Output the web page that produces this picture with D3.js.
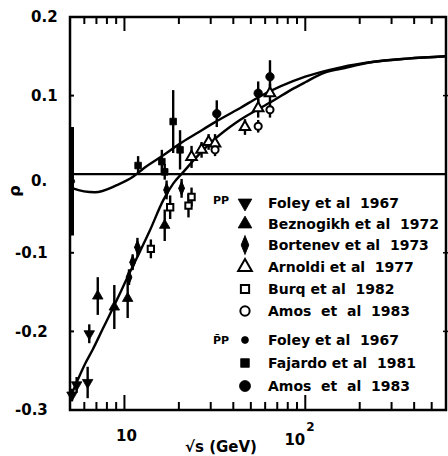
<!DOCTYPE html>
<html><head><meta charset="utf-8">
<script src="https://cdn.jsdelivr.net/npm/d3@7"></script>
<style>
html,body{margin:0;padding:0;background:#fff;}
text{font-family:"DejaVu Sans",sans-serif;font-weight:bold;fill:#000;}
</style></head>
<body>
<svg id="c" width="448" height="456"></svg>
<script>
// ---- data ----
const ppFoleyS=[5.11,5.44,6.26,6.39];
const ppFoleyRho=[-0.281,-0.268,-0.265,-0.203];
const ppFoleyErr=[0.008,0.010,0.020,0.012];

const ppBeznogikhS=[7.12,8.79,10.42,16.7];
const ppBeznogikhRho=[-0.155,-0.169,-0.158,-0.065];
const ppBeznogikhErr=[0.024,0.028,0.025,0.020];

const ppBortenevS=[10.6,11.1,11.8,17.1,20.7];
const ppBortenevRho=[-0.131,-0.112,-0.093,-0.020,-0.018];
const ppBortenevErr=[0.010,0.010,0.012,0.012,0.012];

const ppAmaldiS=[23.5,26.7,29.2,31.7,46.4,54.9,63.8];
const ppAmaldiRho=[0.022,0.031,0.041,0.039,0.060,0.084,0.103];
const ppAmaldiErr=[0.014,0.010,0.010,0.012,0.010,0.012,0.012];

const ppBurqS=[14.0,17.9,22.6,23.5];
const ppBurqRho=[-0.095,-0.042,-0.040,-0.029];
const ppBurqErr=[0.012,0.015,0.015,0.012];

const ppAmosS=[31.7,54.9,63.8];
const ppAmosRho=[0.031,0.061,0.082];
const ppAmosErr=[0.008,0.008,0.010];

const pbarpFoleyS=[5.0];
const pbarpFoleyRho=[-0.009];
const pbarpFoleyErr=[0.069];

const pbarpFajardoS=[11.9,16.1,16.7,18.6,20.3];
const pbarpFajardoRho=[0.011,0.016,0.003,0.067,0.031];
const pbarpFajardoErr=[0.012,0.015,0.010,0.040,0.025];

const pbarpAmosS=[32.4,54.9,63.8];
const pbarpAmosRho=[0.077,0.103,0.124];
const pbarpAmosErr=[0.017,0.015,0.021];

// fitted curves
const ppCurveS=[5,6.13,6.68,7.58,8.61,9.57,10.6,11.8,13.8,16.4,18.6,21.2,25.1,31.0,38.3,43.5,54.2,67.1,83,100,127,157,240,366,600];
const ppCurveRho=[-0.285,-0.239,-0.223,-0.197,-0.171,-0.149,-0.127,-0.105,-0.072,-0.033,-0.012,0.003,0.022,0.043,0.060,0.069,0.082,0.094,0.107,0.117,0.129,0.134,0.143,0.147,0.150];
const pbarpCurveS=[5,5.2,6.87,9.06,11.2,12.7,16.4,20.3,25.1,31.0,38.3,43.5,54.2,100,157,240,366,600];
const pbarpCurveRho=[-0.015,-0.018,-0.023,-0.014,-0.003,0.007,0.024,0.039,0.052,0.065,0.077,0.084,0.097,0.124,0.136,0.143,0.147,0.150];

const yTicks=[0.2,0.1,0,-0.1,-0.2,-0.3];
const yTickLabels=["0.2","0.1","0.","-0.1","-0.2","-0.3"];
const xMajor=[10,100];
const xMinor=[6,7,8,9,20,30,40,50,60,70,80,90,200,300,400,500];

const legendPP=["Foley et al  1967","Beznogikh et al  1972","Bortenev et al  1973","Arnoldi et al  1977","Burq et al  1982","Amos  et  al  1983"];
const legendPbarP=["Foley et al  1967","Fajardo et al  1981","Amos  et  al  1983"];

// ---- drawing ----
const svg=d3.select("#c");
const x=d3.scaleLog().domain([5,600]).range([70,446]);
const y=d3.scaleLinear().domain([-0.3,0.2]).range([410,17]);
const L=70,R=446,T=17,B=410;
const axes=svg.append("g").attr("stroke","#000").attr("fill","none");

// frame
axes.append("path").attr("d",`M${L},${T}H${R}V${B}H${L}Z`).attr("stroke-width",2.5);
// x ticks (inward, top and bottom)
function xt(vals,len){
  vals.forEach(v=>{
    axes.append("line").attr("x1",x(v)).attr("x2",x(v)).attr("y1",B).attr("y2",B-len).attr("stroke-width",2);
    axes.append("line").attr("x1",x(v)).attr("x2",x(v)).attr("y1",T).attr("y2",T+len-1).attr("stroke-width",2);
  });
}
xt(xMajor,15); xt(xMinor,8);
// y ticks
yTicks.forEach(v=>{
  axes.append("line").attr("x1",L).attr("x2",L+4).attr("y1",y(v)).attr("y2",y(v)).attr("stroke-width",2);
});
[0.1,-0.1,-0.2].forEach(v=>{
  axes.append("line").attr("x1",R-3).attr("x2",R+3).attr("y1",y(v)).attr("y2",y(v)).attr("stroke-width",1.5);
});
// zero line
axes.append("line").attr("x1",L).attr("x2",R).attr("y1",y(0)).attr("y2",y(0)).attr("stroke-width",2.2);

// y tick labels
svg.selectAll(".yl").data(yTicks).join("text").attr("class","yl")
  .attr("x",d=>d<0?15:31).attr("y",d=>y(d)+(d===0?6:0)).attr("dy","0.36em")
  .attr("font-size",15).text((d,i)=>yTickLabels[i]);

// x tick labels
svg.append("text").attr("x",x(10)+2).attr("y",441).attr("text-anchor","middle").attr("font-size",15).text("10");
svg.append("text").attr("x",x(100)).attr("y",445).attr("text-anchor","end").attr("font-size",15).text("10");
svg.append("text").attr("x",x(100)+1).attr("y",431).attr("font-size",12).text("2");
svg.append("text").attr("x",185).attr("y",452).attr("font-size",15).text("\u221As (GeV)");
svg.append("text").attr("transform","translate(20,191) rotate(-90)").attr("text-anchor","middle")
  .attr("font-size",16).text("\u03c1");

// curves
const line=d3.line().x(d=>x(d[0])).y(d=>y(d[1])).curve(d3.curveMonotoneX);
svg.append("path").datum(ppCurveS.map((s,i)=>[s,ppCurveRho[i]]))
  .attr("d",line).attr("fill","none").attr("stroke","#000").attr("stroke-width",2.4);
svg.append("path").datum(pbarpCurveS.map((s,i)=>[s,pbarpCurveRho[i]]))
  .attr("d",line).attr("fill","none").attr("stroke","#000").attr("stroke-width",2.4);

// markers
const sym={
  tdown:{type:d3.symbolTriangle,size:48,rot:180,fill:"#000"},
  tup:{type:d3.symbolTriangle,size:48,rot:0,fill:"#000"},
  dia:{type:d3.symbolDiamond,size:30,rot:0,fill:"#000",sy:1.4},
  otri:{type:d3.symbolTriangle,size:48,rot:0,fill:"#fff"},
  osq:{type:d3.symbolSquare,size:40,rot:0,fill:"#fff"},
  ocir:{type:d3.symbolCircle,size:40,rot:0,fill:"#fff"},
  dot:{type:d3.symbolCircle,size:22,rot:0,fill:"#000"},
  fsq:{type:d3.symbolSquare,size:44,rot:0,fill:"#000"},
  fcir:{type:d3.symbolCircle,size:56,rot:0,fill:"#000"}
};
function marker(g,cx,cy,k,scale){
  const s=sym[k]; const sc=scale||1;
  g.append("path").attr("d",d3.symbol().type(s.type).size(s.size*sc*sc)())
    .attr("transform",`translate(${cx},${cy}) rotate(${s.rot}) scale(1,${s.sy||1})`)
    .attr("fill",s.fill).attr("stroke","#000").attr("stroke-width",s.fill==="#fff"?2:0.8);
}
const series=[
  [ppFoleyS,ppFoleyRho,ppFoleyErr,"tdown"],
  [ppBeznogikhS,ppBeznogikhRho,ppBeznogikhErr,"tup"],
  [ppBortenevS,ppBortenevRho,ppBortenevErr,"dia"],
  [ppAmaldiS,ppAmaldiRho,ppAmaldiErr,"otri"],
  [ppBurqS,ppBurqRho,ppBurqErr,"osq"],
  [ppAmosS,ppAmosRho,ppAmosErr,"ocir"],
  [pbarpFoleyS,pbarpFoleyRho,pbarpFoleyErr,"dot"],
  [pbarpFajardoS,pbarpFajardoRho,pbarpFajardoErr,"fsq"],
  [pbarpAmosS,pbarpAmosRho,pbarpAmosErr,"fcir"]
];
const pts=svg.append("g");
series.forEach(([S,Rh,E,k])=>{
  S.forEach((s,i)=>{
    const cx=Math.max(x(s),L+2);
    pts.append("line").attr("x1",cx).attr("x2",cx).attr("y1",y(Rh[i]-E[i])).attr("y2",y(Rh[i]+E[i]))
      .attr("stroke","#000").attr("stroke-width",k==="dot"?4:2.4);
  });
});
series.forEach(([S,Rh,E,k])=>{
  S.forEach((s,i)=>marker(pts,Math.max(x(s),L+2),y(Rh[i]),k));
});

// legend
const rowsPP=[203,224,245,267,289,311];
const rowsPbar=[340,363,386];
const lg=svg.append("g");
const kPP=["tdown","tup","dia","otri","osq","ocir"];
const kPb=["dot","fsq","fcir"];
legendPP.forEach((t,i)=>{
  marker(lg,245,rowsPP[i],kPP[i],1.3);
  lg.append("text").attr("x",268).attr("y",rowsPP[i]).attr("dy","0.36em").attr("font-size",14)
    .style("white-space","pre").text(t);
});
legendPbarP.forEach((t,i)=>{
  marker(lg,245,rowsPbar[i],kPb[i],1.3);
  lg.append("text").attr("x",268).attr("y",rowsPbar[i]).attr("dy","0.36em").attr("font-size",14)
    .style("white-space","pre").text(t);
});
lg.append("text").attr("x",213).attr("y",200).attr("dy","0.36em").attr("font-size",11).text("PP");
lg.append("text").attr("x",213).attr("y",340).attr("dy","0.36em").attr("font-size",11).text("P\u0304P");
</script>
</body></html>
